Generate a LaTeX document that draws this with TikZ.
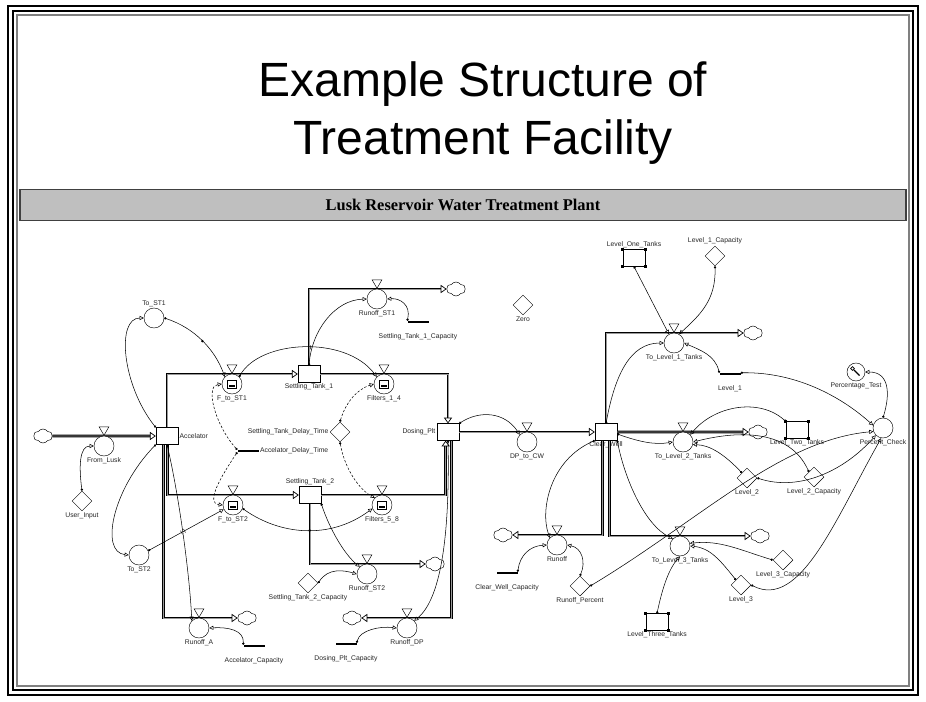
\documentclass[tikz,border=0pt]{standalone}
\usepackage{fontspec}
\setmainfont{Liberation Serif}
\setsansfont{Liberation Sans}
\usetikzlibrary{arrows.meta,shapes.geometric,shapes.symbols}
\tikzset{
  lbl/.style={font=\sffamily\fontsize{5.8}{6}\selectfont, inner sep=1pt, text=black!85},
  stock/.style={draw, rectangle, minimum width=0.66cm, minimum height=0.5cm, inner sep=0pt, fill=white},
  conv/.style={draw, circle, minimum size=0.6cm, inner sep=0pt, fill=white},
  const/.style={draw, diamond, minimum size=0.6cm, inner sep=0pt, fill=white},
  gauge/.style={fill=black, rectangle, minimum width=0.63cm, minimum height=0.06cm, inner sep=0pt},
  sink/.style={draw, cloud, cloud puffs=6, cloud puff arc=110, aspect=1.3, minimum width=0.56cm, minimum height=0.42cm, inner sep=0pt, fill=white},
  valve/.style={draw, regular polygon, regular polygon sides=3, shape border rotate=180, minimum size=0.34cm, inner sep=0pt, fill=white},
  pipe/.style={draw=black, line width=0.9pt, double=black!40, double distance=0.6pt, -{Triangle[open, line width=0.6pt, length=5pt, width=7pt]}},
  link/.style={line width=0.45pt, {Circle[length=2pt]}-{Triangle[open, line width=0.45pt, length=3.5pt, width=3.5pt]}},
  dlink/.style={link, dash pattern=on 2pt off 1.5pt},
  tick/.style={draw, line width=0.4pt, minimum width=0pt, minimum height=3.5pt, inner sep=0pt},
  blob/.style={circle, fill, inner sep=0.8pt},
}
\begin{document}
\begin{tikzpicture}[x=0.03cm, y=-0.03cm]
  \useasboundingbox[fill=white] (0,0) rectangle (926,701);
  % frame and heading
  \draw[line width=2pt] (8,6) rectangle (918,695);
  \draw[line width=2pt] (13,11) rectangle (913,690);
  \draw[gray, line width=1.2pt] (17,15) rectangle (909,686);
  \node[font=\sffamily\fontsize{41}{49}\selectfont, align=center] (title) at (483,113) {Example Structure of\\Treatment Facility};
  \node[draw=black!75, line width=1pt, fill=black!25, minimum width=26.58cm, minimum height=0.93cm, font=\bfseries\fontsize{14}{16}\selectfont] (banner) at (463,205) {Lusk Reservoir Water Treatment Plant};

  % stocks
  \node[stock, label={[lbl]right:Accelator}] (accel) at (167,436) {};
  \node[stock, label={[lbl]below:Settling\_Tank\_1}] (st1) at (309,374) {};
  \node[stock, label={[lbl]above:Settling\_Tank\_2}] (st2) at (310,495) {};
  \node[stock, label={[lbl]left:Dosing\_Plt}] (dosing) at (448,432) {};
  \node[stock, label={[lbl]below:Clear\_Well}] (clearwell) at (606,432) {};
  \node[stock, label={[lbl]above:Level\_One\_Tanks}] (lot) at (634,258) {};
  \node[stock, label={[lbl]below:Level\_Two\_Tanks}] (ltt2) at (797,430) {};
  \node[stock, label={[lbl]below:Level\_Three\_Tanks}] (ltt3) at (657,622) {};
  \foreach \s in {lot,ltt2,ltt3}
    \foreach \c in {north west,north east,south west,south east}
      \fill ([shift={(-1.2pt,-1.2pt)}]\s.\c) rectangle ([shift={(1.2pt,1.2pt)}]\s.\c);

  % clouds
  \node[sink] (src) at (43,436) {};
  \node[sink] (cla) at (247,618) {};
  \node[sink] (clst1) at (456,289) {};
  \node[sink] (clst2) at (435,564) {};
  \node[sink] (cldp) at (352,618) {};
  \node[sink] (cll1) at (753,333) {};
  \node[sink] (cll2) at (758,432) {};
  \node[sink] (cll3) at (760,536) {};
  \node[sink] (clro) at (503,535) {};

  % pipes
  \draw[pipe] (src) -- (accel);
  \draw[pipe] (accel.north) |- (st1.west);
  \draw[pipe] (st1.east) -| (dosing.north);
  \draw[pipe] ([xshift=0.5pt]accel.south) |- (st2.west);
  \draw[pipe] ([xshift=-3pt]accel.south) |- (cla.west);
  \draw[pipe] (st2.east) -| ([xshift=-2pt]dosing.south);
  \draw[pipe] (st1.north) |- (clst1.west);
  \draw[pipe] (st2.south) |- (clst2.west);
  \draw[pipe] ([xshift=3pt]dosing.south) |- (cldp.east);
  \draw[pipe] (dosing) -- (clearwell);
  \draw[pipe] (clearwell.north) |- (cll1.west);
  \draw[pipe] (clearwell) -- (cll2);
  \draw[pipe] ([xshift=3pt]clearwell.south) |- (cll3.west);
  \draw[pipe] ([xshift=-3pt]clearwell.south) |- (clro.east);

  % flows
  \node[conv, label={[lbl]below:From\_Lusk}] (fromlusk) at (104,446) {};
  \node[conv, label={[lbl]below:F\_to\_ST1}] (ftost1) at (232,384) {};
  \node[conv, label={[lbl]below:Filters\_1\_4}] (filt14) at (384,384) {};
  \node[conv, label={[lbl]below:F\_to\_ST2}] (ftost2) at (233,505) {};
  \node[conv, label={[lbl]below:Filters\_5\_8}] (filt58) at (382,505) {};
  \node[conv, label={[lbl]below:Runoff\_A}] (runa) at (199,628) {};
  \node[conv, label={[lbl]below:Runoff\_ST1}] (runst1) at (377,299) {};
  \node[conv, label={[lbl]below:Runoff\_ST2}] (runst2) at (367,574) {};
  \node[conv, label={[lbl]below:Runoff\_DP}] (rundp) at (407,628) {};
  \node[conv, label={[lbl]below:DP\_to\_CW}] (dptocw) at (527,442) {};
  \node[conv, label={[lbl]below:To\_Level\_1\_Tanks}] (tol1) at (674,343) {};
  \node[conv, label={[lbl]below:To\_Level\_2\_Tanks}] (tol2) at (683,442) {};
  \node[conv, label={[lbl]below:To\_Level\_3\_Tanks}] (tol3) at (680,546) {};
  \node[conv, label={[lbl]below:Runoff}] (runoff) at (557,545) {};
  \foreach \f in {fromlusk,ftost1,filt14,ftost2,filt58,runa,runst1,runst2,rundp,dptocw,tol1,tol2,tol3,runoff}
    \node[valve, anchor=corner 1] at (\f.north) {};
  \foreach \f in {ftost1,ftost2,filt14,filt58} {
    \draw[fill=white, line width=0.4pt] ([shift={(-3.8pt,-3.5pt)}]\f.center) rectangle ([shift={(3.8pt,3.5pt)}]\f.center);
    \fill ([shift={(-2.8pt,-2.6pt)}]\f.center) rectangle ([shift={(2.8pt,-0.6pt)}]\f.center);
  }

  % converters and constants
  \node[const, label={[lbl]below:User\_Input}] (userin) at (82,501) {};
  \node[conv, label={[lbl]above:To\_ST1}] (tost1) at (154,318) {};
  \node[conv, label={[lbl]below:To\_ST2}] (tost2) at (139,555) {};
  \node[gauge, label={[lbl]right:Accelator\_Delay\_Time}] (adelay) at (248,451) {};
  \node[const, label={[lbl]left:Settling\_Tank\_Delay\_Time}] (stdelay) at (340,432) {};
  \node[gauge, label={[lbl, label distance=8pt]below:Accelator\_Capacity}] (acap) at (254,646) {};
  \node[gauge, label={[lbl, label distance=8pt]below:Settling\_Tank\_1\_Capacity}] (st1cap) at (418,322) {};
  \node[gauge, label={[lbl, label distance=8pt]below:Dosing\_Plt\_Capacity}] (dpcap) at (346,644) {};
  \node[gauge, label={[lbl, label distance=8pt]below:Clear\_Well\_Capacity}] (cwcap) at (507,573) {};
  \node[gauge, label={[lbl, label distance=8pt]below:Level\_1}] (lev1) at (730,374) {};
  \node[const, label={[lbl]below:Settling\_Tank\_2\_Capacity}] (st2cap) at (308,583) {};
  \node[const, label={[lbl]below:Zero}] (zero) at (523,305) {};
  \node[const, label={[lbl]above:Level\_1\_Capacity}] (l1cap) at (715,256) {};
  \node[conv, minimum size=0.54cm, label={[lbl]below:Percentage\_Test}] (ptest) at (856,372) {};
  \draw[line width=0.5pt] ([shift={(-3pt,3pt)}]ptest.center) circle (1.6pt);
  \draw[line width=1.1pt] ([shift={(-1.8pt,1.8pt)}]ptest.center) -- ([shift={(3pt,-3pt)}]ptest.center);
  \node[conv, label={[lbl]below:Percent\_Check}] (pcheck) at (883,428) {};
  \node[const, label={[lbl]below:Level\_2}] (lev2) at (747,478) {};
  \node[const, label={[lbl]below:Level\_2\_Capacity}] (l2cap) at (814,477) {};
  \node[const, label={[lbl]below:Runoff\_Percent}] (ropct) at (580,586) {};
  \node[const, label={[lbl]below:Level\_3\_Capacity}] (l3cap) at (783,560) {};
  \node[const, label={[lbl]below:Level\_3}] (lev3) at (741,585) {};

  % connectors, left half
  \draw[link] (accel.north west) .. controls (122,385) and (116,318) .. (tost1.west);
  \draw[link] (tost1.east) .. controls (195,328) and (215,350) .. node[pos=.5, blob] {} (ftost1.north west);
  \draw[link] (accel.south west) .. controls (112,490) and (100,552) .. (tost2.west);
  \draw[link] (tost2.25) -- node[pos=.44, sloped, tick] {} node[pos=.48, sloped, tick] {} (ftost2.205);
  \draw[link] (userin.north) .. controls (79,468) and (79,446) .. (fromlusk.west);
  \draw[link] (accel.south) .. controls (180,500) and (190,580) .. (runa.north west);
  \draw[link] (acap.north west) .. controls (244,630) and (228,627) .. (runa.east);
  \draw[link] (ftost1.north east) .. controls (260,340) and (345,335) .. node[pos=.54, sloped, tick] {} (filt14.north west);
  \draw[link] (st1.north) .. controls (312,330) and (335,300) .. (runst1.west);
  \draw[link] (st1cap.north west) .. controls (411,305) and (400,298) .. (runst1.east);
  \draw[link] (ftost2.-20) .. controls (280,535) and (330,540) .. node[pos=.53, blob] {} (filt58.200);
  \draw[link] (st2.south east) .. controls (330,530) and (345,555) .. (runst2.north west);
  \draw[link] (st2cap.east) .. controls (328,568) and (343,570) .. (runst2.west);
  \draw[link] (dosing.south) .. controls (450,540) and (440,600) .. (rundp.north east);
  \draw[link] (dpcap.north east) .. controls (360,630) and (380,626) .. (rundp.west);
  \draw[link] (dosing.north east) .. controls (480,410) and (505,412) .. (dptocw.north west);
  \draw[dlink] (adelay.north west) .. controls (215,425) and (205,386) .. (ftost1.west);
  \draw[dlink] (adelay.south west) .. controls (222,475) and (205,503) .. (ftost2.west);
  \draw[dlink] (stdelay.north) .. controls (345,405) and (355,390) .. (filt14.west);
  \draw[dlink] (stdelay.south) .. controls (345,470) and (360,490) .. (filt58.north west);

  % connectors, right half
  \draw[link] (clearwell.south west) .. controls (550,460) and (540,510) .. (runoff.north west);
  \draw[link] (cwcap.north east) .. controls (520,555) and (530,546) .. (runoff.west);
  \draw[link] (ropct.north) .. controls (586,562) and (582,548) .. (runoff.east);
  \draw[link] (ropct.east) .. controls (700,520) and (780,440) .. (pcheck.200);
  \draw[link] (clearwell.north) .. controls (615,375) and (630,343) .. (tol1.west);
  \draw[link] (lot.south) -- (tol1.120);
  \draw[link] (l1cap.south) .. controls (716,300) and (700,315) .. (tol1.60);
  \draw[link] (lev1.north west) .. controls (715,355) and (700,350) .. (tol1.east);
  \draw[link] (lev1.north east) .. controls (800,372) and (845,400) .. (pcheck.165);
  \draw[link] (pcheck.north) .. controls (890,395) and (890,372) .. (ptest.east);
  \draw[link] (clearwell.-10) .. controls (640,442) and (655,445) .. (tol2.west);
  \draw[link] (ltt2.north west) .. controls (760,398) and (715,405) .. (tol2.north east);
  \draw[link] (l2cap.north west) .. controls (790,430) and (740,430) .. (tol2.east);
  \draw[link] (lev2.north west) .. controls (725,455) and (710,445) .. (tol2.-15);
  \draw[link] (lev2.east) .. controls (800,492) and (845,470) .. (pcheck.south west);
  \draw[link] (clearwell.south east) .. controls (625,480) and (645,525) .. (tol3.north west);
  \draw[link] (ltt3.north) .. controls (662,590) and (668,570) .. (tol3.south);
  \draw[link] (lev3.north west) .. controls (720,560) and (710,548) .. (tol3.east);
  \draw[link] (l3cap.west) .. controls (740,550) and (720,540) .. (tol3.15);
  \draw[link] (lev3.east) .. controls (800,610) and (835,520) .. (pcheck.-100);
\end{tikzpicture}
\end{document}
